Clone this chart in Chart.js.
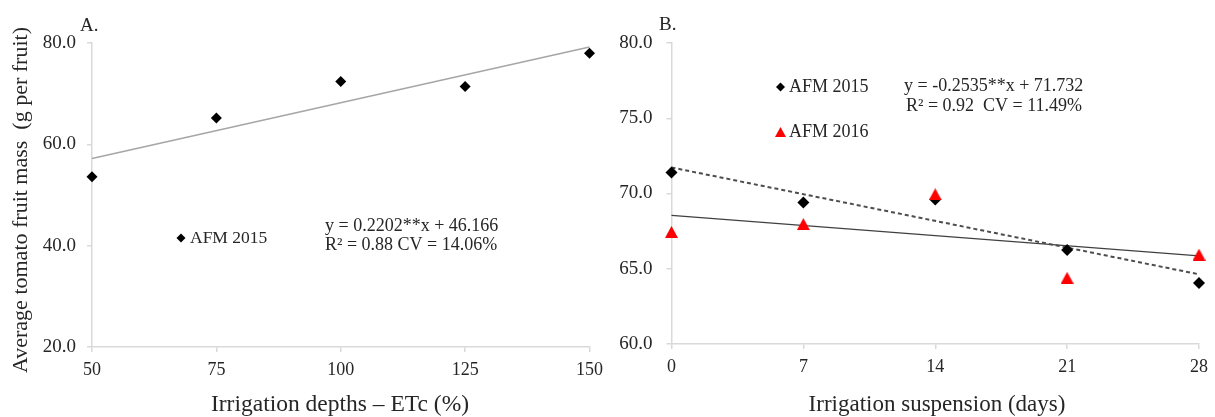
<!DOCTYPE html>
<html>
<head>
<meta charset="utf-8">
<script src="https://cdn.jsdelivr.net/npm/chart.js@4.4.0/dist/chart.umd.min.js"></script>
<style>
  html, body { margin: 0; padding: 0; background: #ffffff; }
  #wrap { position: relative; width: 1215px; height: 417px; overflow: hidden; background: #fff; }
  .panel { position: absolute; top: 0; }
</style>
</head>
<body>
<div id="wrap">
  <div class="panel" style="left:0px;"><canvas id="chartA" width="610" height="417"></canvas></div>
  <div class="panel" style="left:607px;"><canvas id="chartB" width="608" height="417"></canvas></div>
</div>
<script>
// ---------- DATA ----------
// Panel A: irrigation depths (% ETc) vs fruit mass
const depthsA = [50, 75, 100, 125, 150];
const afm2015A = [53.6, 65.2, 72.4, 71.4, 78.0];
const trendXA = [50, 150];
const trendYA = [57.2, 79.2];
const xTickLabelsA = ['50', '75', '100', '125', '150'];
const yTickLabelsA = ['20.0', '40.0', '60.0', '80.0'];

// Panel B: irrigation suspension (days) vs fruit mass
const daysB = [0, 7, 14, 21, 28];
const afm2015B = [71.4, 69.4, 69.6, 66.25, 64.05];
const afm2016B = [67.45, 67.97, 69.95, 64.4, 65.94];
const trendX2015B = [0, 28];
const trendY2015B = [71.73, 64.63];
const trendX2016B = [0, 28];
const trendY2016B = [68.55, 65.85];
const xTickLabelsB = ['0', '7', '14', '21', '28'];
const yTickLabelsB = ['60.0', '65.0', '70.0', '75.0', '80.0'];

// Texts
const yTitle = 'Average tomato fruit mass  (g per fruit)';
const xTitleA = 'Irrigation depths \u2013 ETc (%)';
const xTitleB = 'Irrigation suspension (days)';
const panelLabelA = 'A.';
const panelLabelB = 'B.';
const seriesNames = ['AFM 2015', 'AFM 2016'];
const eqA = ['y = 0.2202**x + 46.166', 'R\u00b2 = 0.88 CV = 14.06%'];
const eqB = ['y = -0.2535**x + 71.732', 'R\u00b2 = 0.92  CV = 11.49%'];

// ---------- HELPERS ----------
const FONT = "'Liberation Serif', 'Times New Roman', serif";
const TXT = '#262626';
const AXIS = '#d9d9d9';
const pts = (xs, ys) => xs.map((x, i) => ({ x: x, y: ys[i] }));

function triangleImg(w, h, color) {
  const c = document.createElement('canvas');
  c.width = w; c.height = h;
  const g = c.getContext('2d');
  g.fillStyle = color;
  g.beginPath();
  g.moveTo(w / 2, 0);
  g.lineTo(w, h);
  g.lineTo(0, h);
  g.closePath();
  g.fill();
  return c;
}
const redTri = triangleImg(13, 12, '#ff0000');
const redTriLegend = triangleImg(11, 10, '#ff0000');

function drawDiamond(ctx, x, y, r) {
  ctx.fillStyle = '#000';
  ctx.beginPath();
  ctx.moveTo(x, y - r); ctx.lineTo(x + r, y); ctx.lineTo(x, y + r); ctx.lineTo(x - r, y);
  ctx.closePath(); ctx.fill();
}

const textPlugin = {
  id: 'texts',
  afterDraw(chart, args, opts) {
    const ctx = chart.ctx;
    ctx.save();
    (opts.items || []).forEach(it => {
      ctx.save();
      ctx.fillStyle = it.color || TXT;
      ctx.font = it.font;
      ctx.textAlign = it.align || 'left';
      ctx.textBaseline = 'middle';
      ctx.translate(it.x, it.y);
      if (it.rotate) ctx.rotate(it.rotate);
      ctx.fillText(it.text, 0, 0);
      ctx.restore();
    });
    (opts.markers || []).forEach(m => {
      if (m.type === 'diamond') drawDiamond(ctx, m.x, m.y, m.r);
      else if (m.type === 'tri') ctx.drawImage(redTriLegend, m.x - redTriLegend.width / 2, m.y - redTriLegend.height / 2);
    });
    ctx.restore();
  }
};

function axisCommon() {
  return {
    grid: { drawOnChartArea: false, drawTicks: true, tickLength: 5, color: AXIS, lineWidth: 1.5 },
    border: { color: AXIS, width: 1.5 },
  };
}

// ---------- CHART A ----------
new Chart(document.getElementById('chartA'), {
  type: 'scatter',
  data: {
    datasets: [
      {
        label: 'trend',
        data: pts(trendXA, trendYA),
        showLine: true,
        borderColor: '#a6a6a6',
        borderWidth: 1.5,
        pointRadius: 0,
        clip: false,
        order: 2
      },
      {
        label: seriesNames[0],
        data: pts(depthsA, afm2015A),
        pointStyle: 'rectRot',
        pointRadius: 5.5,
        backgroundColor: '#000',
        borderColor: '#000',
        borderWidth: 0,
        clip: false,
        order: 1
      }
    ]
  },
  options: {
    responsive: false,
    devicePixelRatio: 1,
    animation: false,
    layout: { padding: { left: 0, right: 16, top: 43, bottom: 0 } },
    plugins: {
      legend: { display: false },
      tooltip: { enabled: false },
      texts: {
        items: [
          { text: yTitle, x: 21, y: 200, rotate: -Math.PI / 2, align: 'center', font: '22px ' + FONT },
          { text: xTitleA, x: 340, y: 405, align: 'center', font: '23.5px ' + FONT },
          { text: panelLabelA, x: 80, y: 26, font: '19px ' + FONT },
          { text: seriesNames[0], x: 190, y: 238, font: '17.5px ' + FONT },
          { text: eqA[0], x: 325, y: 226, font: '18px ' + FONT },
          { text: eqA[1], x: 325, y: 245, font: '18px ' + FONT }
        ],
        markers: [{ type: 'diamond', x: 181, y: 238, r: 4.5 }]
      }
    },
    scales: {
      x: Object.assign(axisCommon(), {
        type: 'linear', min: 50, max: 150,
        afterFit(s) { s.height = 70; },
        ticks: {
          stepSize: 25, padding: 7, color: TXT, font: { family: FONT, size: 18 },
          callback: (v, i) => xTickLabelsA[i]
        }
      }),
      y: Object.assign(axisCommon(), {
        type: 'linear', min: 20, max: 80,
        afterFit(s) { s.width = 92; },
        ticks: {
          stepSize: 20, padding: 11, color: TXT, font: { family: FONT, size: 19 },
          callback: (v, i) => yTickLabelsA[i]
        }
      })
    }
  },
  plugins: [textPlugin]
});

// ---------- CHART B ----------
new Chart(document.getElementById('chartB'), {
  type: 'scatter',
  data: {
    datasets: [
      {
        label: 'trend 2016',
        data: pts(trendX2016B, trendY2016B),
        showLine: true,
        borderColor: '#404040',
        borderWidth: 1.3,
        pointRadius: 0,
        clip: false,
        order: 4
      },
      {
        label: 'trend 2015',
        data: pts(trendX2015B, trendY2015B),
        showLine: true,
        borderColor: '#4d4d4d',
        borderWidth: 2,
        borderDash: [4, 3],
        pointRadius: 0,
        clip: false,
        order: 3
      },
      {
        label: seriesNames[0],
        data: pts(daysB, afm2015B),
        pointStyle: 'rectRot',
        pointRadius: 6,
        backgroundColor: '#000',
        borderColor: '#000',
        borderWidth: 0,
        clip: false,
        order: 2
      },
      {
        label: seriesNames[1],
        data: pts(daysB, afm2016B),
        pointStyle: redTri,
        pointRadius: 7,
        backgroundColor: '#ff0000',
        borderColor: '#ff0000',
        clip: false,
        order: 1
      }
    ]
  },
  options: {
    responsive: false,
    devicePixelRatio: 1,
    animation: false,
    layout: { padding: { left: 0, right: 9, top: 43, bottom: 0 } },
    plugins: {
      legend: { display: false },
      tooltip: { enabled: false },
      texts: {
        items: [
          { text: xTitleB, x: 330, y: 405, align: 'center', font: '23px ' + FONT },
          { text: panelLabelB, x: 52, y: 25, font: '19px ' + FONT },
          { text: seriesNames[0], x: 182, y: 87, font: '18px ' + FONT },
          { text: seriesNames[1], x: 182, y: 132, font: '18px ' + FONT },
          { text: eqB[0], x: 297, y: 86, font: '18px ' + FONT },
          { text: eqB[1], x: 299, y: 106, font: '18px ' + FONT }
        ],
        markers: [
          { type: 'diamond', x: 173.5, y: 87, r: 4.5 },
          { type: 'tri', x: 173.5, y: 132 }
        ]
      }
    },
    scales: {
      x: Object.assign(axisCommon(), {
        type: 'linear', min: 0, max: 28,
        afterFit(s) { s.height = 73; },
        ticks: {
          stepSize: 7, padding: 7, color: TXT, font: { family: FONT, size: 18 },
          callback: (v, i) => xTickLabelsB[i]
        }
      }),
      y: Object.assign(axisCommon(), {
        type: 'linear', min: 60, max: 80,
        afterFit(s) { s.width = 64.5; },
        ticks: {
          stepSize: 5, padding: 14, color: TXT, font: { family: FONT, size: 19 },
          callback: (v, i) => yTickLabelsB[i]
        }
      })
    }
  },
  plugins: [textPlugin]
});
</script>
</body>
</html>
